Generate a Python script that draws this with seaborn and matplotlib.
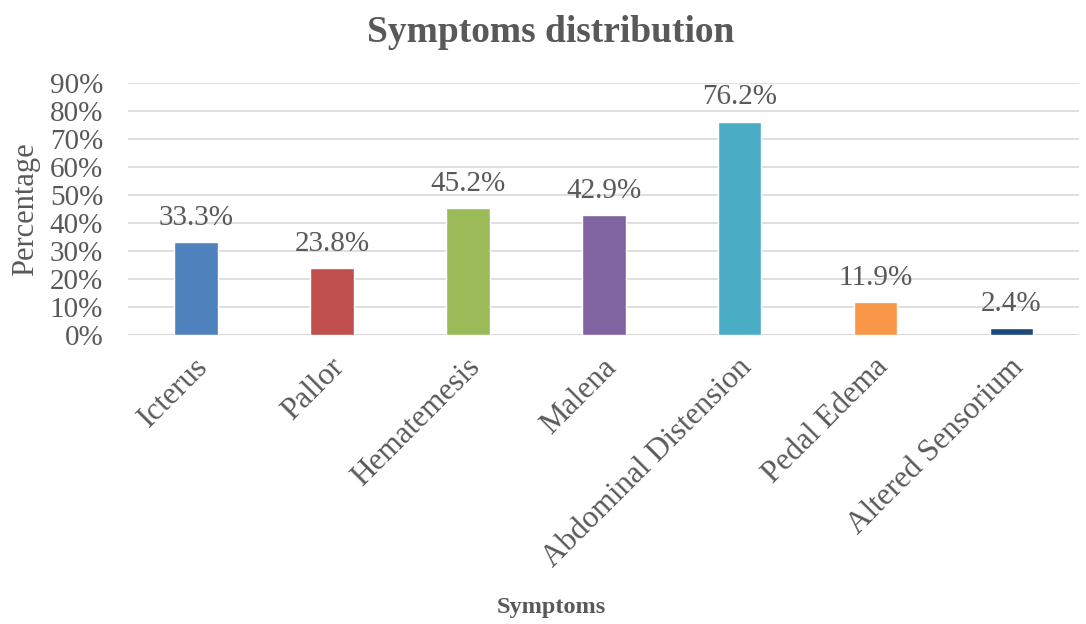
import matplotlib
matplotlib.use("Agg")
import matplotlib.pyplot as plt
import matplotlib.transforms as mtransforms
import seaborn as sns
import pandas as pd
from matplotlib.ticker import PercentFormatter

symptoms = ["Icterus", "Pallor", "Hematemesis", "Malena",
            "Abdominal Distension", "Pedal Edema", "Altered Sensorium"]
percentages = [33.3, 23.8, 45.2, 42.9, 76.2, 11.9, 2.4]
bar_colors = ["#4F81BD", "#C0504D", "#9BBB59", "#8064A2",
              "#4BACC6", "#F79646", "#1F497D"]
y_ticks = [0, 10, 20, 30, 40, 50, 60, 70, 80, 90]

df = pd.DataFrame({"Symptom": symptoms, "Percentage": percentages})

sns.set_style("white")
plt.rcParams["font.family"] = ["Liberation Serif", "DejaVu Serif"]

fig = plt.figure(figsize=(10.86, 6.24), dpi=100)
ax = fig.add_axes([0.118, 0.463, 0.876, 0.404])

sns.barplot(data=df, x="Symptom", y="Percentage", hue="Symptom",
            palette=bar_colors, width=0.32, legend=False, ax=ax,
            saturation=1)

text_color = "#595959"
for i, v in enumerate(percentages):
    ax.text(i, v + 4.0, f"{v:.1f}%", ha="center", va="bottom",
            fontsize=21, color=text_color)

ax.set_ylim(0, 90)
ax.set_yticks(y_ticks)
ax.yaxis.set_major_formatter(PercentFormatter(decimals=0))
ax.yaxis.grid(True, color="#D9D9D9", linewidth=1.2)
ax.set_axisbelow(True)
for s in ax.spines.values():
    s.set_visible(False)
ax.axhline(0, color="#D9D9D9", linewidth=1.5, zorder=0)

ax.tick_params(axis="y", labelsize=21, labelcolor=text_color, length=0, pad=18)
ax.tick_params(axis="x", labelsize=22.5, labelcolor=text_color, length=0, pad=20)
shift = mtransforms.ScaledTranslation(8 / 100, 0, fig.dpi_scale_trans)
for lbl in ax.get_xticklabels():
    lbl.set_rotation(45)
    lbl.set_ha("right")
    lbl.set_va("center")
    lbl.set_rotation_mode("anchor")
    lbl.set_transform(lbl.get_transform() + shift)

ax.set_xlabel("Symptoms", fontsize=17.5, fontweight="bold", color=text_color,
              labelpad=0)
ax.xaxis.set_label_coords(0.445, -1.037)
ax.set_ylabel("Percentage", fontsize=22, color=text_color, labelpad=2)
ax.yaxis.set_label_coords(-0.093, 0.5)

fig.text(0.507, 0.948, "Symptoms distribution", ha="center", va="center",
         fontsize=27, fontweight="bold", color=text_color)

fig.savefig("out.png", dpi=100, facecolor="white")
